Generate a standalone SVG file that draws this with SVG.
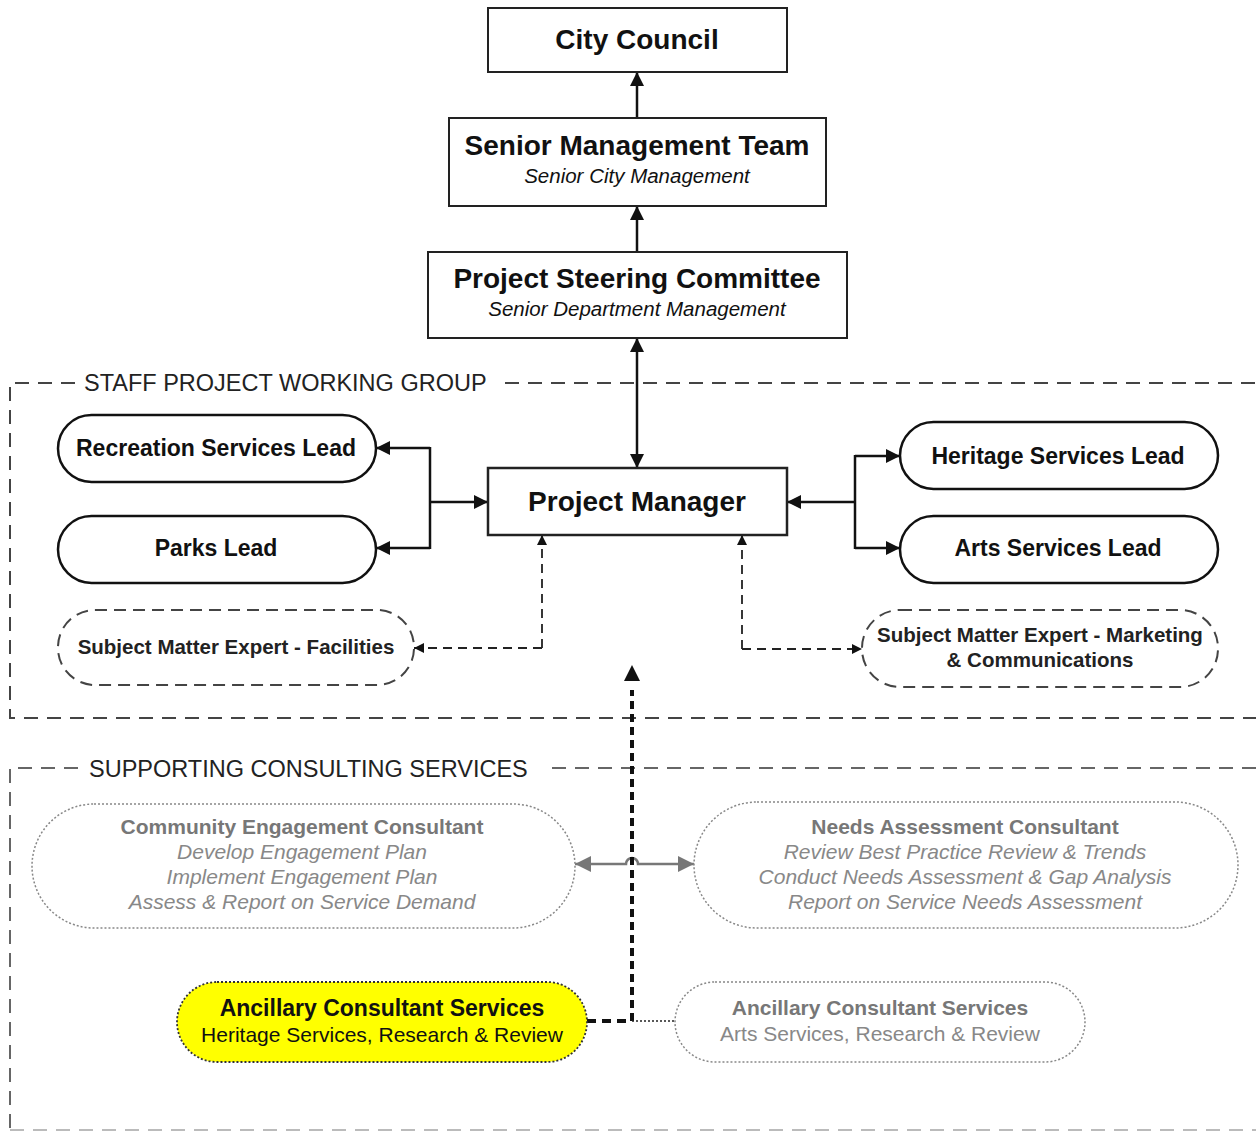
<svg xmlns="http://www.w3.org/2000/svg" width="1256" height="1132" viewBox="0 0 1256 1132">
<defs>
<style>
text{font-family:"Liberation Sans",Arial,sans-serif;text-anchor:middle}
.box{fill:#fff;stroke:#222;stroke-width:2}
.pill{fill:#fff;stroke:#111;stroke-width:2.5}
.sme{fill:#fff;stroke:#444;stroke-width:2;stroke-dasharray:12 7}
.dot{fill:#fff;stroke:#888;stroke-width:1.5;stroke-dasharray:2 2}
.grp{fill:none;stroke:#444;stroke-width:2;stroke-dasharray:14 9}
.t1{font-size:28px;font-weight:bold;fill:#111}
.t2{font-size:20.5px;font-style:italic;fill:#111}
.t3{font-size:23px;font-weight:bold;fill:#111}
.t4{font-size:20.5px;font-weight:bold;fill:#222}
.lab{font-size:23.5px;fill:#222;text-anchor:start}
.g1{font-size:21px;font-weight:bold;fill:#777}
.g2{font-size:21px;font-style:italic;fill:#888}
.g3{font-size:21px;fill:#888}
.ln{fill:none;stroke:#111;stroke-width:2.5}
.dl{fill:none;stroke:#222;stroke-width:1.8;stroke-dasharray:9 6}
</style>
<marker id="a" viewBox="0 0 10 10" refX="10" refY="5" markerWidth="18" markerHeight="14" markerUnits="userSpaceOnUse" orient="auto-start-reverse"><path d="M0,0 L10,5 L0,10 Z" fill="#111"/></marker>
<marker id="as" viewBox="0 0 10 10" refX="10" refY="5" markerWidth="14" markerHeight="10" markerUnits="userSpaceOnUse" orient="auto-start-reverse"><path d="M0,0 L10,5 L0,10 Z" fill="#111"/></marker>
<marker id="ab" viewBox="0 0 10 10" refX="10" refY="5" markerWidth="24" markerHeight="16" markerUnits="userSpaceOnUse" orient="auto-start-reverse"><path d="M0,0 L10,5 L0,10 Z" fill="#111"/></marker>
<marker id="ag" viewBox="0 0 10 10" refX="10" refY="5" markerWidth="22" markerHeight="16" markerUnits="userSpaceOnUse" orient="auto-start-reverse"><path d="M0,0 L10,5 L0,10 Z" fill="#777"/></marker>
</defs>
<rect width="1256" height="1132" fill="#fff"/>

<g id="groups">
<path class="grp" d="M75,383 H10 V718 H1256 M505,383 H1256"/>
<path class="grp" d="M78,768 H10 V1130 M552,768 H1256" style="stroke:#666"/>
<path class="grp" d="M10,1130 H1256" style="stroke:#bbb"/>
<text class="lab" x="84" y="391">STAFF PROJECT WORKING GROUP</text>
<text class="lab" x="89" y="777">SUPPORTING CONSULTING SERVICES</text>
</g>

<g id="connectors">
<path class="ln" d="M637,118 V72" marker-end="url(#a)"/>
<path class="ln" d="M637,252 V206" marker-end="url(#a)"/>
<path class="ln" d="M637,468 V338" marker-start="url(#a)" marker-end="url(#a)"/>
<path class="ln" d="M430,448 H376" marker-end="url(#a)"/>
<path class="ln" d="M430,548 H376" marker-end="url(#a)"/>
<path class="ln" d="M430,447 V549"/>
<path class="ln" d="M430,502 H488" marker-end="url(#a)"/>
<path class="ln" d="M855,456 H900" marker-end="url(#a)"/>
<path class="ln" d="M855,548 H900" marker-end="url(#a)"/>
<path class="ln" d="M855,455 V549"/>
<path class="ln" d="M855,502 H787" marker-end="url(#a)"/>
<path class="dl" d="M542,648 V535" marker-end="url(#as)"/>
<path class="dl" d="M542,648 H414" marker-end="url(#as)"/>
<path class="dl" d="M742,649 V535" marker-end="url(#as)"/>
<path class="dl" d="M742,649 H862" marker-end="url(#as)"/>
<path d="M575,864 H626 A6,6 0 0 1 638,864 H694" fill="none" stroke="#777" stroke-width="2.5" marker-start="url(#ag)" marker-end="url(#ag)"/>
<path d="M632,1021 V690" fill="none" stroke="#111" stroke-width="4" stroke-dasharray="8 5"/>
<path d="M632,700 V665" fill="none" stroke="none" marker-end="url(#ab)"/>
<path d="M587,1021 H632" fill="none" stroke="#111" stroke-width="4" stroke-dasharray="9 6"/>
<path d="M632,1021 H675" fill="none" stroke="#222" stroke-width="1.5" stroke-dasharray="2 2"/>
</g>

<g id="city-council">
<rect class="box" x="488" y="8" width="299" height="64"/>
<text class="t1" x="637" y="49">City Council</text>
</g>
<g id="senior-management-team">
<rect class="box" x="449" y="118" width="377" height="88"/>
<text class="t1" x="637" y="155">Senior Management Team</text>
<text class="t2" x="637" y="183">Senior City Management</text>
</g>
<g id="project-steering-committee">
<rect class="box" x="428" y="252" width="419" height="86"/>
<text class="t1" x="637" y="288">Project Steering Committee</text>
<text class="t2" x="637" y="316">Senior Department Management</text>
</g>
<g id="project-manager">
<rect class="box" x="488" y="468" width="299" height="67" style="stroke-width:2.5"/>
<text class="t1" x="637" y="511">Project Manager</text>
</g>
<g id="recreation-services-lead">
<rect class="pill" x="58" y="415" width="318" height="67" rx="33.5"/>
<text class="t3" x="216" y="456">Recreation Services Lead</text>
</g>
<g id="parks-lead">
<rect class="pill" x="58" y="516" width="318" height="67" rx="33.5"/>
<text class="t3" x="216" y="556">Parks Lead</text>
</g>
<g id="heritage-services-lead">
<rect class="pill" x="900" y="422" width="318" height="67" rx="33.5"/>
<text class="t3" x="1058" y="464">Heritage Services Lead</text>
</g>
<g id="arts-services-lead">
<rect class="pill" x="900" y="516" width="318" height="67" rx="33.5"/>
<text class="t3" x="1058" y="556">Arts Services Lead</text>
</g>
<g id="sme-facilities">
<rect class="sme" x="58" y="610" width="356" height="75" rx="37"/>
<text class="t4" x="236" y="654">Subject Matter Expert - Facilities</text>
</g>
<g id="sme-marketing">
<rect class="sme" x="862" y="610" width="356" height="77" rx="38"/>
<text class="t4" x="1040" y="642">Subject Matter Expert - Marketing</text>
<text class="t4" x="1040" y="667">&amp; Communications</text>
</g>
<g id="community-engagement-consultant">
<rect class="dot" x="32" y="804" width="543" height="124" rx="62"/>
<text class="g1" x="302" y="834">Community Engagement Consultant</text>
<text class="g2" x="302" y="859">Develop Engagement Plan</text>
<text class="g2" x="302" y="884">Implement Engagement Plan</text>
<text class="g2" x="302" y="909">Assess &amp; Report on Service Demand</text>
</g>
<g id="needs-assessment-consultant">
<rect class="dot" x="694" y="802" width="544" height="126" rx="63"/>
<text class="g1" x="965" y="834">Needs Assessment Consultant</text>
<text class="g2" x="965" y="859">Review Best Practice Review &amp; Trends</text>
<text class="g2" x="965" y="884">Conduct Needs Assessment &amp; Gap Analysis</text>
<text class="g2" x="965" y="909">Report on Service Needs Assessment</text>
</g>
<g id="ancillary-heritage">
<rect x="177" y="982" width="410" height="80" rx="40" fill="#ffff00" stroke="#333" stroke-width="1.8" stroke-dasharray="2 2"/>
<text class="t3" x="382" y="1016" style="fill:#111">Ancillary Consultant Services</text>
<text x="382" y="1042" style="font-size:21px;fill:#111">Heritage Services, Research &amp; Review</text>
</g>
<g id="ancillary-arts">
<rect class="dot" x="675" y="982" width="410" height="80" rx="40"/>
<text class="g1" x="880" y="1015">Ancillary Consultant Services</text>
<text class="g3" x="880" y="1041">Arts Services, Research &amp; Review</text>
</g>
</svg>
